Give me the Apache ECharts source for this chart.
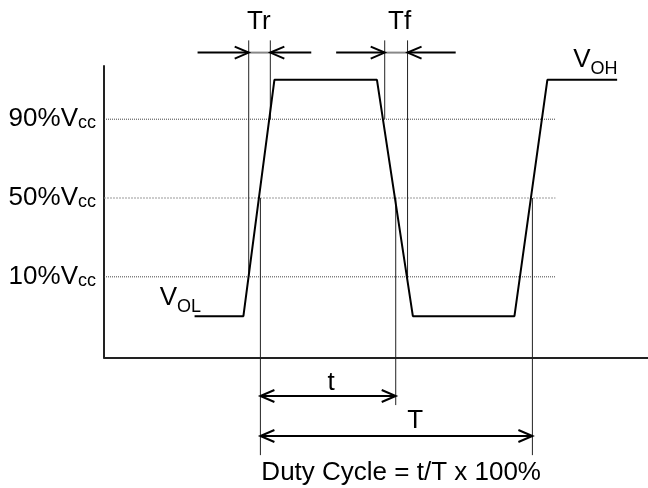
<!DOCTYPE html>
<html><head><meta charset="utf-8">
<script src="https://cdn.jsdelivr.net/npm/echarts@6/dist/echarts.min.js"></script>
<style>html,body{margin:0;padding:0;background:#fff}#c{width:648px;height:488px}</style>
</head><body><div id="c"></div>
<script>
// ---- Signal levels (% of Vcc) ----
const VOL = -10, VOH = 110;
const refLevels = [10, 50, 90];
// ---- Waveform breakpoints (time units) ----
const waveTimes  = [-4.84, -1.25, 1.03, 8.57, 11.21, 18.68, 21.1, 26.23];
const waveLevels = [VOL, VOL, VOH, VOH, VOL, VOL, VOH, VOH];
// ---- Timing reference instants ----
const riseTimes = [-0.86, 0.73];   // 10% / 90% of rising edge (Tr)
const fallTimes = [9.14, 10.82];   // 90% / 10% of falling edge (Tf)
const halfTimes = [0, 9.95, 20];   // 50% crossings (t, T)
const halfLineEnds = [-80.5, -55.1, -80.5];
const markerTop = 130;
const refLineEnd = 21.7;
const edgeArrowLevel = 123.8;
const edgeArrowTails = [-4.62, 3.74, 5.57, 14.36];
const tArrowLevel = -50.5, TArrowLevel = -70.8;
// ---- Text annotations ----
const labelTexts = ['{m|Tr}', '{m|Tf}', '{mp|V}{s|OH}', '{mp|V}{s|OL}',
  '{m|90%V}{s|cc}', '{m|50%V}{s|cc}', '{m|10%V}{s|cc}', '{m|t}', '{m|T}', '{m|Duty Cycle = t/T x 100%}'];
const labelTimes  = [-0.12, 10.24, 23.0, -7.4, -12.09, -12.09, -12.09, 5.2, 11.39, 0.07];
const labelLevels = [139.2, 139.2, 118.8, -1.9, 90, 50, 10, -43.7, -63.2, -89.7];
const labelAligns = ['center', 'center', 'left', 'left', 'right', 'right', 'right', 'center', 'center', 'left'];

const FONT = '"Liberation Sans", Arial, sans-serif';
const rich = {
  m:  {fontSize: 26, fontFamily: FONT, fill: '#000', verticalAlign: 'bottom'},
  mp: {fontSize: 26, fontFamily: FONT, fill: '#000', verticalAlign: 'bottom', padding: [0, 0, 5, 0]},
  s:  {fontSize: 18, fontFamily: FONT, fill: '#000', verticalAlign: 'bottom'}
};

const series = [];
// dotted reference levels
refLevels.forEach((lv) => {
  series.push({
    type: 'line', silent: true, symbol: 'none', clip: false, z: 1,
    data: [[-11.5, lv], [refLineEnd, lv]],
    lineStyle: lv === 50 ? {color: '#999', width: 1, type: [2, 1]} : {color: '#444', width: 1, type: [1, 1]}
  });
});
// vertical marker lines for Tr / Tf
const markerLines = [[riseTimes[0], 10], [riseTimes[1], 90], [fallTimes[0], 90], [fallTimes[1], 10]];
markerLines.forEach(([t, lv]) => {
  series.push({type: 'line', silent: true, symbol: 'none', clip: false, z: 2,
    data: [[t, markerTop], [t, lv]], lineStyle: {color: '#222', width: 1}});
});
halfTimes.forEach((t, i) => {
  series.push({type: 'line', silent: true, symbol: 'none', clip: false, z: 2,
    data: [[t, 50], [t, halfLineEnds[i]]], lineStyle: {color: '#222', width: 1}});
});
// gray connectors between Tr / Tf markers
[riseTimes, fallTimes].forEach(pair => {
  series.push({type: 'line', silent: true, symbol: 'none', clip: false, z: 2,
    data: [[pair[0], edgeArrowLevel], [pair[1], edgeArrowLevel]], lineStyle: {color: '#888', width: 2}});
});
// waveform
series.push({type: 'line', silent: true, symbol: 'none', clip: false, z: 5,
  data: waveTimes.map((t, i) => [t, waveLevels[i]]), lineStyle: {color: '#000', width: 2}});

// arrows [from, to, level, bothHeads]
const arrows = [
  [edgeArrowTails[0], riseTimes[0], edgeArrowLevel, 0],
  [edgeArrowTails[1], riseTimes[1], edgeArrowLevel, 0],
  [edgeArrowTails[2], fallTimes[0], edgeArrowLevel, 0],
  [edgeArrowTails[3], fallTimes[1], edgeArrowLevel, 0],
  [halfTimes[0], halfTimes[1], tArrowLevel, 1],
  [halfTimes[0], halfTimes[2], TArrowLevel, 1]
];
const HL = 14, HW = 6;
series.push({
  type: 'custom', coordinateSystem: 'cartesian2d', clip: false, silent: true, z: 6,
  data: arrows,
  renderItem(params, api) {
    const a = api.coord([api.value(0), api.value(2)]);
    const b = api.coord([api.value(1), api.value(2)]);
    const st = {stroke: '#000', lineWidth: 2, fill: null};
    const head = (tip, from) => {
      const d = tip[0] > from[0] ? 1 : -1;
      return {type: 'polyline', shape: {points: [[tip[0] - d * HL, tip[1] - HW], [tip[0], tip[1]], [tip[0] - d * HL, tip[1] + HW]]}, style: st};
    };
    const ch = [{type: 'line', shape: {x1: a[0], y1: a[1], x2: b[0], y2: b[1]}, style: st}, head(b, a)];
    if (api.value(3)) ch.push(head(a, b));
    return {type: 'group', children: ch};
  }
});
// text
series.push({
  type: 'custom', coordinateSystem: 'cartesian2d', clip: false, silent: true, z: 7,
  data: labelTexts.map((s, i) => [labelTimes[i], labelLevels[i], i]),
  renderItem(params, api) {
    const p = api.coord([api.value(0), api.value(1)]);
    const i = api.value(2);
    return {type: 'text', x: p[0], y: p[1],
      style: {text: labelTexts[i], rich: rich, fill: '#000', fontSize: 26, fontFamily: FONT,
        align: labelAligns[i], verticalAlign: 'middle'}};
  }
});

const chart = echarts.init(document.getElementById('c'), null, {renderer: 'canvas'});
chart.setOption({
  animation: false,
  backgroundColor: '#fff',
  grid: {left: 104, top: 66, width: 546, height: 291.6},
  xAxis: {type: 'value', min: -11.5, max: 28.5,
    axisLine: {show: true, onZero: false, lineStyle: {color: '#222', width: 2}},
    axisTick: {show: false}, axisLabel: {show: false}, splitLine: {show: false}},
  yAxis: {type: 'value', min: -31, max: 117,
    axisLine: {show: true, onZero: false, lineStyle: {color: '#222', width: 2}},
    axisTick: {show: false}, axisLabel: {show: false}, splitLine: {show: false}},
  series: series
});
</script></body></html>
